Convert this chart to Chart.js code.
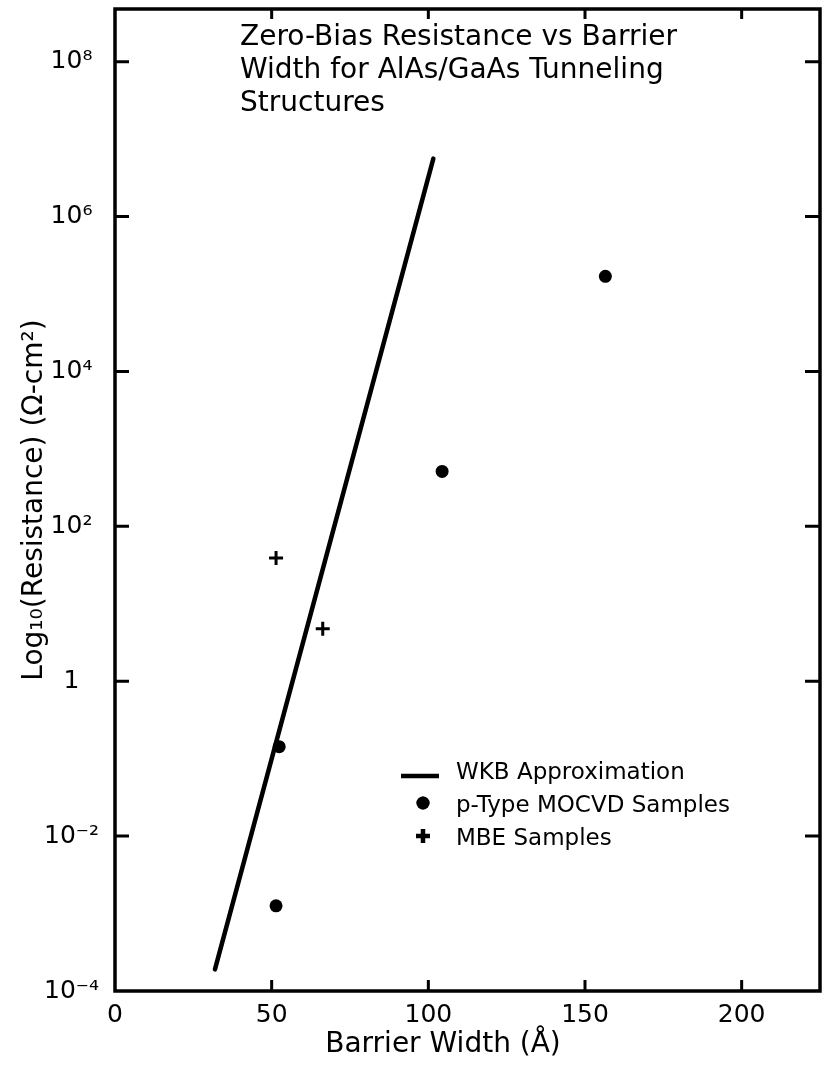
<!DOCTYPE html>
<html>
<head>
<meta charset="utf-8">
<script src="https://cdn.jsdelivr.net/npm/chart.js@4.4.1/dist/chart.umd.min.js"></script>
<style>
  html, body { margin: 0; padding: 0; background: #fff; overflow: hidden; }
  #wrap { width: 823px; height: 1069px; position: relative; }
</style>
</head>
<body>
<div id="wrap"><canvas id="myChart"></canvas></div>
<script>
// axis ticks
const xTickValues = [0, 50, 100, 150, 200];
const yTickValues = [1e-4, 1e-2, 1, 1e2, 1e4, 1e6, 1e8];
const yTickLabels = ["10⁻⁴", "10⁻²", "1", "10²", "10⁴", "10⁶", "10⁸"];

// WKB approximation (straight line on the log plot)
const wkbWidth = [31.9, 101.6];
const wkbResistance = [1.9e-4, 5.6e6];

// p-Type MOCVD samples
const mocvdWidth = [51.4, 52.4, 104.4, 156.5];
const mocvdResistance = [1.26e-3, 0.143, 512, 1.69e5];

// MBE samples
const mbeWidth = [51.4, 66.3];
const mbeResistance = [38.9, 4.75];

const titleLines = [
  "Zero-Bias Resistance vs Barrier",
  "Width for AlAs/GaAs Tunneling",
  "Structures"
];
const xTitle = "Barrier Width (Å)";
const yTitle = "Log₁₀(Resistance) (Ω-cm²)";

const ink = "#000";
const fontFamily = '"DejaVu Sans", sans-serif';

Chart.defaults.font.family = fontFamily;
Chart.defaults.color = ink;

const toPoints = (xs, ys) => xs.map((x, i) => ({ x, y: ys[i] }));

// frame, inward ticks, in-plot title, legend and x title
const decorations = {
  id: "decorations",
  afterDraw(chart) {
    const { ctx, chartArea: a, scales: { x, y } } = chart;
    ctx.save();
    ctx.strokeStyle = ink;
    ctx.fillStyle = ink;

    ctx.lineWidth = 3.5;
    ctx.strokeRect(a.left, a.top, a.right - a.left, a.bottom - a.top);

    ctx.lineWidth = 3;
    ctx.beginPath();
    xTickValues.slice(1).forEach((v) => {
      const px = x.getPixelForValue(v);
      ctx.moveTo(px, a.bottom);
      ctx.lineTo(px, a.bottom - 11);
      ctx.moveTo(px, a.top);
      ctx.lineTo(px, a.top + 10);
    });
    yTickValues.slice(1).forEach((v) => {
      const py = y.getPixelForValue(v);
      ctx.moveTo(a.left, py);
      ctx.lineTo(a.left + 14, py);
      ctx.moveTo(a.right, py);
      ctx.lineTo(a.right - 15, py);
    });
    ctx.stroke();

    ctx.textBaseline = "middle";
    ctx.textAlign = "left";
    ctx.font = "28px " + fontFamily;
    titleLines.forEach((t, i) => {
      ctx.fillText(t, a.left + 125, a.top + 29 + i * 33);
    });

    // legend
    ctx.font = "23px " + fontFamily;
    const symX = a.left + 308;
    chart.data.datasets.forEach((ds, i) => {
      const rowY = a.bottom - 218 + i * 33;
      if (ds.showLine) {
        ctx.lineWidth = ds.borderWidth;
        ctx.beginPath();
        ctx.moveTo(symX - 22, rowY + 3);
        ctx.lineTo(symX + 16, rowY + 3);
        ctx.stroke();
      } else {
        Chart.helpers.drawPoint(ctx, {
          pointStyle: ds.pointStyle,
          radius: ds.pointRadius,
          borderWidth: ds.borderWidth,
          rotation: 0
        }, symX, rowY - 3);
        ctx.fill();
      }
      ctx.fillText(ds.label, a.left + 341, rowY);
    });

    ctx.textAlign = "center";
    ctx.font = "28px " + fontFamily;
    ctx.fillText(xTitle, a.left + 328, a.bottom + 54);
    ctx.restore();
  }
};

const createChart = () => {
  const ctx = document.getElementById("myChart").getContext("2d");

  return new Chart(ctx, {
    type: "scatter",
    data: {
      datasets: [
        {
          label: "WKB Approximation",
          data: toPoints(wkbWidth, wkbResistance),
          showLine: true,
          borderColor: ink,
          borderWidth: 4.5,
          borderCapStyle: "round",
          pointRadius: 0
        },
        {
          label: "p-Type MOCVD Samples",
          data: toPoints(mocvdWidth, mocvdResistance),
          pointStyle: "circle",
          pointRadius: 6.5,
          backgroundColor: ink,
          borderColor: ink,
          borderWidth: 0
        },
        {
          label: "MBE Samples",
          data: toPoints(mbeWidth, mbeResistance),
          pointStyle: "cross",
          pointRadius: 7,
          backgroundColor: ink,
          borderColor: ink,
          borderWidth: 3
        }
      ]
    },
    options: {
      responsive: true,
      maintainAspectRatio: false,
      animation: false,
      layout: {
        autoPadding: false,
        padding: { top: 9, right: 3, left: 0, bottom: 0 }
      },
      plugins: {
        legend: { display: false },
        tooltip: { enabled: false }
      },
      scales: {
        x: {
          type: "linear",
          min: 0,
          max: 225,
          afterBuildTicks: (scale) => {
            scale.ticks = xTickValues.map((v) => ({ value: v }));
          },
          afterFit: (scale) => {
            scale.height = 78;
            scale.paddingLeft = 0;
            scale.paddingRight = 0;
          },
          grid: { display: false },
          border: { display: false },
          ticks: {
            padding: 1,
            font: { size: 25 },
            color: ink,
            callback: (value) => String(value)
          }
        },
        y: {
          type: "logarithmic",
          min: 1e-4,
          max: Math.pow(10, 8.68),
          afterBuildTicks: (scale) => {
            scale.ticks = yTickValues.map((v) => ({ value: v }));
          },
          afterFit: (scale) => {
            scale.width = 115;
            scale.paddingTop = 0;
            scale.paddingBottom = 0;
          },
          grid: { display: false },
          border: { display: false },
          ticks: {
            padding: 8,
            crossAlign: "center",
            font: { size: 25 },
            color: ink,
            callback: (value, index) => yTickLabels[index]
          },
          title: {
            display: true,
            text: yTitle,
            font: { size: 28 },
            color: ink,
            padding: { top: 18, bottom: 0 }
          }
        }
      }
    },
    plugins: [decorations]
  });
};

createChart();
</script>
</body>
</html>
